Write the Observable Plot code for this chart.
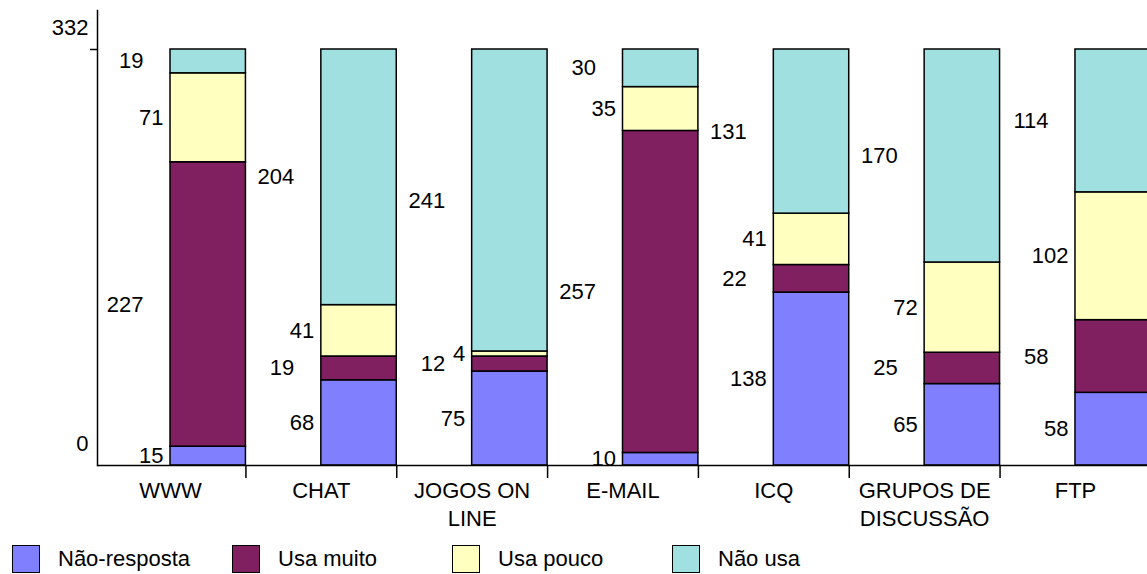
<!DOCTYPE html>
<html><head><meta charset="utf-8">
<script src="https://cdn.jsdelivr.net/npm/d3@7"></script>
<script src="https://cdn.jsdelivr.net/npm/@observablehq/plot@0.6"></script>
<style>
html,body{margin:0;padding:0;background:#fff;overflow:hidden;}
body{font-family:"Liberation Sans",Arial,sans-serif;width:1147px;height:574px;}
#chart svg{display:block;overflow:hidden;}
#legend{position:relative;height:39px;font-size:22px;color:#000;}
.item{position:absolute;top:10px;display:flex;align-items:center;}
.sw{width:26px;height:26px;border:1.5px solid #000;box-sizing:content-box;}
.lb{margin-left:18px;line-height:28px;}
</style></head><body>
<div id="chart"></div>
<div id="legend"></div>
<script>
const categories = ["WWW", "CHAT", "JOGOS ON\nLINE", "E-MAIL", "ICQ", "GRUPOS DE\nDISCUSSÃO", "FTP"];
const seriesNames = ["Não-resposta", "Usa muito", "Usa pouco", "Não usa"];
const naoResposta = [15, 68, 75, 10, 138, 65, 58];
const usaMuito    = [227, 19, 12, 257, 22, 25, 58];
const usaPouco    = [71, 41, 4, 35, 41, 72, 102];
const naoUsa      = [19, 204, 241, 30, 131, 170, 114];
const seriesColors = ["#8080FF", "#802060", "#FFFFC0", "#A0E0E0"];
const yTicks = [0, 332];

const seriesValues = [naoResposta, usaMuito, usaPouco, naoUsa];
const data = [];
const cum = categories.map(() => 0);
seriesValues.forEach((vals, si) => {
  vals.forEach((v, ci) => {
    const y1 = cum[ci], y2 = cum[ci] + v;
    cum[ci] = y2;
    data.push({category: categories[ci], series: seriesNames[si], si, value: v, y1, y2, mid: (y1 + y2) / 2});
  });
});

const W = 1147, H = 535;
const xRange = [94.6, 1225.8];
const step = (xRange[1] - xRange[0]) / (categories.length + 0.5);
const bw = step * 0.5;
const FS = 22;

const chart = Plot.plot({
  width: W, height: H,
  marginLeft: 97, marginRight: 0, marginTop: 10, marginBottom: 70,
  style: {fontSize: FS + "px", fontFamily: "'Liberation Sans', Arial, sans-serif", background: "#fff", color: "#000"},
  x: {domain: categories, range: xRange, padding: 0.5, round: false, label: null},
  y: {domain: [0, 332], range: [465, 49], label: null},
  color: {domain: seriesNames, range: seriesColors},
  marks: [
    Plot.rectY(data, {x: "category", y1: "y1", y2: "y2", fill: "series", stroke: "#000", strokeWidth: 1.5}),
    Plot.text(data.filter(d => d.si % 2 === 0), {x: "category", y: "mid", text: d => String(d.value), textAnchor: "end", dx: -bw / 2 - 7, fontSize: FS}),
    Plot.text(data.filter(d => d.si % 2 === 1), {x: "category", y: "mid", text: d => String(d.value), textAnchor: "end", dx: -bw / 2 - 27, fontSize: FS}),
    Plot.ruleY([0], {stroke: "#000", strokeWidth: 1.5}),
    Plot.frame({anchor: "left", stroke: "#000", strokeWidth: 1.5}),
    Plot.axisX({tickSize: 0, tickPadding: 13, dx: -bw / 2, lineHeight: 1.27, fontSize: FS, label: null}),
    Plot.axisX({tickSize: 13, tickFormat: () => "", dx: bw / 2, strokeWidth: 1.5, label: null}),
    Plot.axisY({ticks: yTicks, tickSize: 0, tickPadding: 9, dy: -22, fontSize: FS, label: null}),
    Plot.axisY({ticks: [yTicks[1]], tickSize: 7, tickFormat: () => "", strokeWidth: 1.5, label: null})
  ]
});
document.getElementById("chart").appendChild(chart);

const legend = document.getElementById("legend");
seriesNames.forEach((name, i) => {
  const it = document.createElement("div");
  it.className = "item";
  it.style.left = (12 + i * 220) + "px";
  const sw = document.createElement("div");
  sw.className = "sw";
  sw.style.background = seriesColors[i];
  const lb = document.createElement("span");
  lb.className = "lb";
  lb.textContent = name;
  it.appendChild(sw); it.appendChild(lb);
  legend.appendChild(it);
});
</script>
</body></html>
